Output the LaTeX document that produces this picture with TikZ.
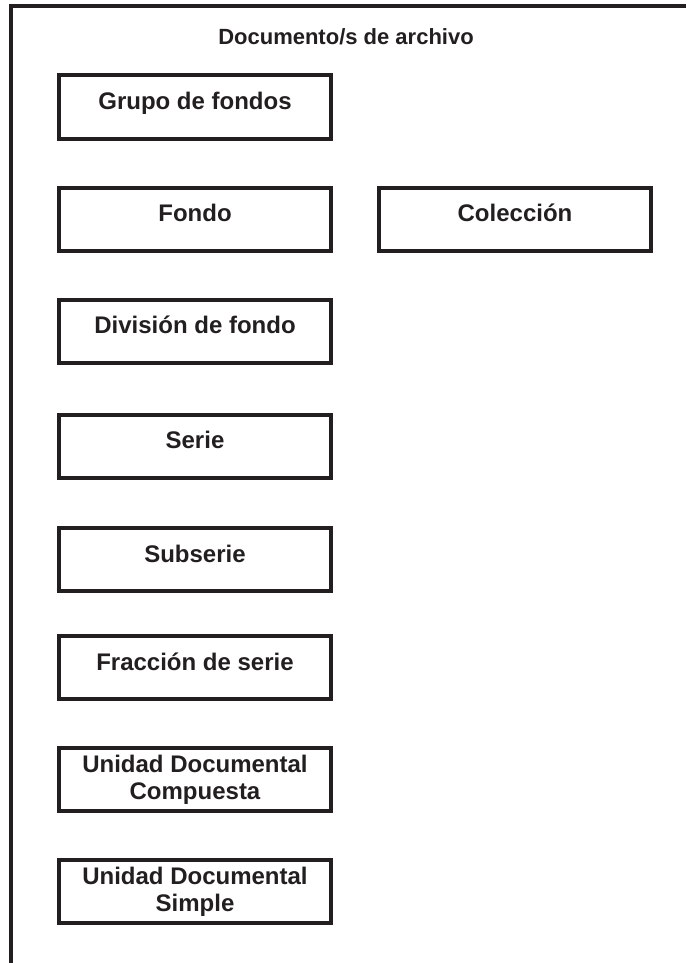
\documentclass[tikz,border=0pt]{standalone}
\usepackage{fontspec}
\setmainfont{Liberation Sans}
\definecolor{ink}{HTML}{231F20}
\begin{document}
\begin{tikzpicture}[x=1pt,y=-1pt,
  boxnode/.style={draw=ink,line width=4pt,minimum width=272pt,minimum height=63pt,
    inner sep=0pt,text=ink,font=\bfseries\fontsize{24}{27}\selectfont,align=center},
  oneline/.style={boxnode,text height=17pt,text depth=11.6pt},
  titlenode/.style={text=ink,font=\bfseries\fontsize{22}{26}\selectfont,inner sep=0pt}]
\useasboundingbox (0,0) rectangle (686,963);
\coordinate (ftop) at (11,6.5);
\coordinate (fbot) at (11,963);
\coordinate (fright) at (686,6.5);
\draw[ink,line width=4pt] (fbot) -- (ftop) -- (fright);
\node[titlenode,anchor=base] (title) at (346,45) {Documento/s de archivo};
\node[oneline] (grupo) at (195,107) {Grupo de fondos};
\node[oneline] (fondo) at (195,219) {Fondo};
\node[oneline] (coleccion) at (515,219) {Colección};
\node[oneline] (division) at (195,331) {División de fondo};
\node[oneline] (serie) at (195,446) {Serie};
\node[oneline] (subserie) at (195,559.5) {Subserie};
\node[oneline] (fraccion) at (195,667.5) {Fracción de serie};
\node[boxnode] (udc) at (195,779.5) {Unidad Documental\\Compuesta};
\node[boxnode] (uds) at (195,891.5) {Unidad Documental\\Simple};
\end{tikzpicture}
\end{document}
